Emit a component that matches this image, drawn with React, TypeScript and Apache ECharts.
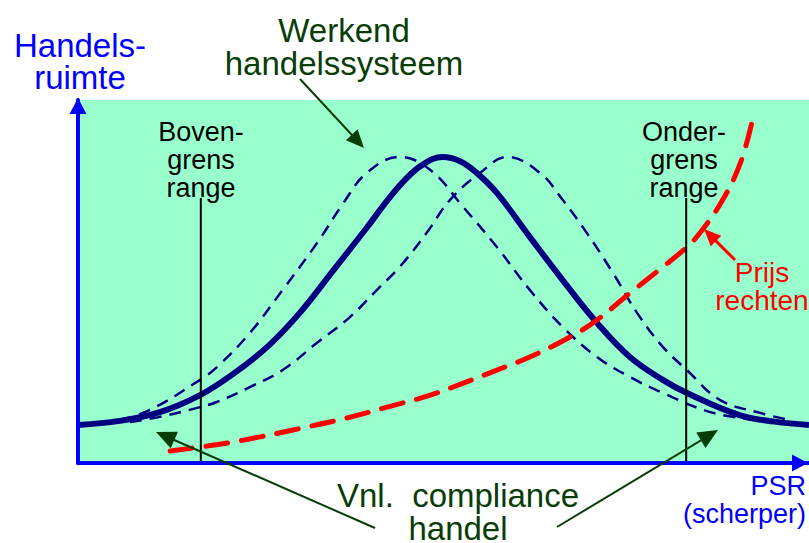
import React, { useEffect, useRef } from "react";
import * as echarts from "echarts";

// Conceptual scale: x (PSR, sharper to the right) 0..100, y (Handelsruimte) 0..100
const werkendSysteem: [number, number][] = [
  [0, 10.5], [5.7, 11.6], [11.2, 14.0], [16.7, 18.7], [21.2, 24.5], [25.9, 32.0],
  [30.4, 41.5], [34.9, 53.0], [39.5, 64.8], [42.0, 71.5], [44.5, 77.5], [47.0, 82.0],
  [49.9, 84.3], [52.2, 83.2], [54.5, 80.0], [57.3, 74.4], [61.8, 62.3], [66.3, 50.4],
  [71.0, 38.6], [75.5, 29.2], [80.0, 22.9], [83.3, 19.3], [90.5, 13.2], [95.3, 11.4],
  [100, 10.5],
];

const variantLinks: [number, number][] = [
  [3.0, 11.0], [8.9, 13.8], [16.7, 22.9], [19.0, 26.4], [23.5, 35.8], [28.0, 47.7],
  [32.7, 60.6], [36.3, 71.6], [39.5, 79.9], [44.0, 84.3], [48.2, 80.7], [52.7, 70.5],
  [57.3, 59.5], [61.8, 47.7], [66.3, 37.5], [71.0, 29.2], [75.5, 23.7], [80.0, 19.3],
  [86.9, 13.8], [93.3, 11.8],
];

const variantRechts: [number, number][] = [
  [7.1, 11.3], [11.2, 12.7], [16.7, 15.4], [19.0, 16.8], [23.5, 20.9], [28.0, 25.6],
  [32.7, 33.1], [37.2, 40.2], [40.9, 47.7], [44.0, 54.0], [47.7, 63.4], [50.9, 72.5],
  [55.0, 79.9], [58.7, 84.3], [63.2, 79.9], [66.3, 72.5], [69.6, 63.4], [73.2, 52.3],
  [76.5, 41.3], [80.0, 32.0], [83.3, 25.6], [87.8, 17.4], [93.3, 13.8], [97.4, 11.8],
];

const prijsRechten: [number, number][] = [
  [12.6, 3.3], [16.7, 4.4], [20.4, 5.5], [24.9, 7.2], [29.4, 9.1], [36.8, 12.4],
  [42.3, 15.4], [48.2, 18.7], [52.7, 22.0], [57.3, 25.6], [61.8, 29.2], [67.3, 34.7],
  [71.0, 39.4], [75.5, 46.8], [80.0, 54.0], [83.3, 59.5], [85.1, 63.4], [88.2, 72.5],
  [90.6, 82.6], [92.2, 93.9],
];

const bovengrens: [number, number][] = [[16.8, 0], [16.8, 73.0]];
const ondergrens: [number, number][] = [[83.2, 0], [83.2, 73.0]];

const FONT = "'Liberation Sans', Arial, Helvetica, sans-serif";
const BLUE = "#0000ff";
const GREEN = "#083d08";
const NAVY = "#000080";
const RED = "#ff0000";

type Label = { text: string; x: number; base: number; lh: number; size: number; color: string; align?: string };
const labels: Label[] = [
  { text: "Handels-\nruimte", x: 80, base: 57, lh: 32, size: 33, color: BLUE },
  { text: "Werkend\nhandelssysteem", x: 344, base: 42, lh: 33, size: 33, color: GREEN },
  { text: "Boven-\ngrens\nrange", x: 201, base: 141, lh: 28, size: 27, color: "#000" },
  { text: "Onder-\ngrens\nrange", x: 684, base: 141, lh: 28, size: 27, color: "#000" },
  { text: "Prijs\nrechten", x: 762, base: 282, lh: 28, size: 28, color: RED },
  { text: "Vnl.  compliance\nhandel", x: 458, base: 507, lh: 33, size: 33, color: GREEN },
  { text: "PSR\n(scherper)", x: 806, base: 495, lh: 28, size: 27, color: BLUE, align: "right" },
];

function arrow(x1: number, y1: number, x2: number, y2: number, color: string, width: number, headLen: number, halfW: number) {
  const dx = x2 - x1;
  const dy = y2 - y1;
  const len = Math.sqrt(dx * dx + dy * dy);
  const ux = dx / len;
  const uy = dy / len;
  const bx = x2 - ux * headLen;
  const by = y2 - uy * headLen;
  const px = -uy;
  const py = ux;
  return [
    {
      type: "line",
      shape: { x1, y1, x2: bx + ux * 2, y2: by + uy * 2 },
      style: { stroke: color, lineWidth: width },
      z: 100,
    },
    {
      type: "polygon",
      shape: {
        points: [
          [x2, y2],
          [bx + px * halfW, by + py * halfW],
          [bx - px * halfW, by - py * halfW],
        ],
      },
      style: { fill: color },
      z: 100,
    },
  ];
}

export default function App() {
  const ref = useRef<HTMLDivElement>(null);
  useEffect(() => {
    if (!ref.current) return;
    const chart = echarts.init(ref.current, null, { renderer: "svg" });

    const textEls = labels.map((l) => {
      const n = l.text.split("\n").length;
      return {
        type: "text",
        x: l.x,
        y: l.base - 0.3465 * l.size + ((n - 1) * l.lh) / 2,
        z: 100,
        style: {
          text: l.text,
          fill: l.color,
          font: `${l.size}px ${FONT}`,
          lineHeight: l.lh,
          align: l.align || "center",
          verticalAlign: "middle",
        },
      };
    });

    const arrows = [
      ...arrow(300, 79, 364, 148, GREEN, 2, 18, 8),
      ...arrow(375, 528, 156, 432, GREEN, 2, 20, 9),
      ...arrow(557, 527, 718, 430, GREEN, 2, 20, 9),
      ...arrow(735, 260, 704, 229, RED, 3, 17, 7.5),
    ];

    const axisCommon = {
      type: "value",
      min: 0,
      max: 100,
      axisTick: { show: false },
      axisLabel: { show: false },
      splitLine: { show: false },
    };

    chart.setOption({
      animation: false,
      backgroundColor: "#ffffff",
      grid: {
        left: 78,
        right: 0,
        top: 100,
        bottom: 80,
        show: true,
        backgroundColor: "#99ffcc",
        borderWidth: 0,
      },
      xAxis: {
        ...axisCommon,
        axisLine: {
          show: true,
          onZero: false,
          symbol: ["none", "triangle"],
          symbolSize: [17, 16],
          symbolOffset: [0, -9],
          lineStyle: { color: BLUE, width: 4 },
        },
        z: 10,
      },
      yAxis: {
        ...axisCommon,
        axisLine: {
          show: true,
          onZero: false,
          symbol: ["none", "triangle"],
          symbolSize: [17, 16],
          symbolOffset: [0, -6],
          lineStyle: { color: BLUE, width: 4 },
        },
        z: 10,
      },
      series: [
        {
          type: "line",
          data: variantLinks,
          smooth: 0.4,
          showSymbol: false,
          symbol: "none",
          lineStyle: { color: NAVY, width: 2.5, type: [12, 8] },
          z: 2,
        },
        {
          type: "line",
          data: variantRechts,
          smooth: 0.4,
          showSymbol: false,
          symbol: "none",
          lineStyle: { color: NAVY, width: 2.5, type: [12, 8] },
          z: 2,
        },
        {
          type: "line",
          data: werkendSysteem,
          smooth: 0.4,
          showSymbol: false,
          symbol: "none",
          lineStyle: { color: NAVY, width: 6 },
          z: 3,
        },
        {
          type: "line",
          data: prijsRechten,
          smooth: 0.4,
          showSymbol: false,
          symbol: "none",
          lineStyle: { color: RED, width: 5, type: [22, 14], cap: "round" },
          z: 4,
        },
        {
          type: "line",
          data: bovengrens,
          showSymbol: false,
          symbol: "none",
          lineStyle: { color: "#000000", width: 2 },
          z: 5,
        },
        {
          type: "line",
          data: ondergrens,
          showSymbol: false,
          symbol: "none",
          lineStyle: { color: "#000000", width: 2 },
          z: 5,
        },
      ],
      graphic: [...textEls, ...arrows],
    });

    return () => chart.dispose();
  }, []);

  return (
    <div
      ref={ref}
      style={{ position: "fixed", left: 0, top: 0, width: 809, height: 543 }}
    />
  );
}
